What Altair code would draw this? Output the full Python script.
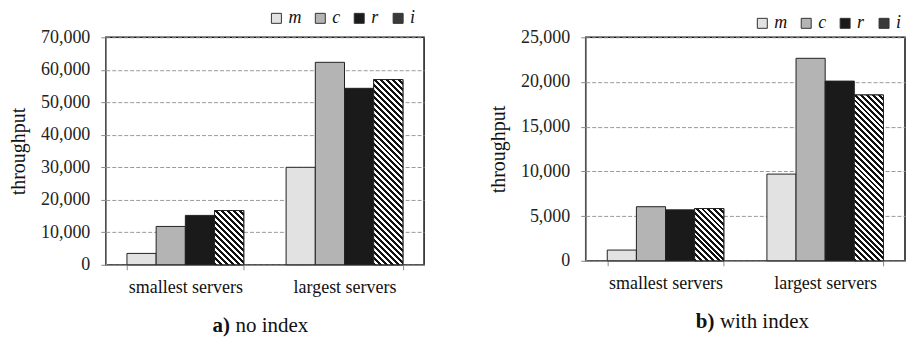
import altair as alt
import pandas as pd

# ---- data ----
groups = ["smallest servers", "largest servers"]
series = ["m", "c", "r", "i"]
a_small = [3500, 11800, 15200, 16700]
a_large = [30000, 62300, 54300, 57000]
b_small = [1200, 6050, 5700, 5850]
b_large = [9700, 22650, 20100, 18550]
a_ticks = [0, 10000, 20000, 30000, 40000, 50000, 60000, 70000]
b_ticks = [0, 5000, 10000, 15000, 20000, 25000]
a_caption = ["a)", "no index"]
b_caption = ["b)", "with index"]
y_title = "throughput"

# ---- styling ----
FONT = "Liberation Serif"
fills = ["#e2e2e2", "#b4b4b4", "#1a1a1a", "#3a3a3a"]
INK = "#111111"
GRAY = "#8a8a8a"


def make_df(small, large):
    rows = []
    for g, vals in zip(groups, [small, large]):
        for s, v in zip(series, vals):
            rows.append({"group": g, "series": s, "value": v})
    return pd.DataFrame(rows)


def hatch(w, h, period=6.0):
    # 45 degree "\" stripes inside a w x h box (objectBoundingBox gradient)
    k = h / w
    du = (1 + k) / (1 + k * k)
    dv = -k * du
    n = max(1, round((w + h) / period))
    stops = []
    for j in range(n):
        a = round(j / n, 5)
        b = round((j + 0.5) / n, 5)
        c = round((j + 1) / n, 5)
        stops += [
            {"offset": a, "color": "#111111"},
            {"offset": b, "color": "#111111"},
            {"offset": b, "color": "#ffffff"},
            {"offset": c, "color": "#ffffff"},
        ]
    return {"gradient": "linear", "x1": 0, "y1": 1, "x2": round(du, 5),
            "y2": round(1 + dv, 5), "stops": stops}


def panel(small, large, ticks, width, height, pin, lx, ly, colpad, caption, cap_x, cap_y):
    df = make_df(small, large)
    ymax = ticks[-1]
    base = alt.Chart(df)
    xenc = alt.X("group:N", sort=groups,
                 scale=alt.Scale(domain=groups, paddingInner=pin, paddingOuter=pin / 2),
                 axis=alt.Axis(title=None, labelFont=FONT, labelFontSize=18, labelColor=INK,
                               labelAngle=0, tickBand="extent", tickSize=5, tickColor=GRAY,
                               domainColor=GRAY, domainWidth=1.5, labelPadding=9, grid=False))
    xoff = alt.XOffset("series:N", sort=series,
                       scale=alt.Scale(domain=series, paddingInner=0, paddingOuter=0))
    yenc = alt.Y("value:Q", scale=alt.Scale(domain=[0, ymax], nice=False),
                 axis=alt.Axis(values=ticks, format=",d", title=y_title, titleFont=FONT,
                               titleFontSize=20, titleFontWeight="normal", titleColor=INK,
                               titlePadding=11.5, labelFont=FONT, labelFontSize=18,
                               labelColor="#222222", labelPadding=11, tickSize=5,
                               tickColor=GRAY, domainColor=GRAY, domainWidth=1.5,
                               grid=True, gridColor="#9a9a9a", gridDash=[4, 2], gridWidth=1))
    bars = base.mark_bar(stroke="#222222", strokeWidth=1).encode(
        x=xenc, xOffset=xoff, y=yenc,
        color=alt.Color("series:N", sort=series,
                        scale=alt.Scale(domain=series, range=fills),
                        legend=alt.Legend(orient="none", legendX=lx, legendY=ly,
                                          direction="horizontal", title=None,
                                          symbolType="square", symbolSize=100,
                                          symbolStrokeColor="#333333", symbolStrokeWidth=1,
                                          symbolOpacity=1,
                                          labelFont=FONT, labelFontStyle="italic",
                                          labelFontSize=18, labelColor=INK, labelOffset=3,
                                          columnPadding=colpad, padding=0)))
    layers = [bars]
    step = width / 2
    bw = step * (1 - pin) / 4
    for g, vals in zip(groups, [small, large]):
        v = vals[series.index("i")]
        h = v / ymax * height
        layers.append(
            base.mark_bar(fill=hatch(bw, h), stroke="#222222", strokeWidth=1)
            .encode(x=xenc, xOffset=xoff, y=yenc)
            .transform_filter(f"datum.series === 'i' && datum.group === '{g}'")
        )
    cap_a = alt.Chart(pd.DataFrame({"t": [caption[0]]})).mark_text(
        font=FONT, fontSize=21, fontWeight="bold", align="right", baseline="alphabetic",
        color=INK).encode(x=alt.value(cap_x), y=alt.value(cap_y), text="t:N")
    cap_b = alt.Chart(pd.DataFrame({"t": [caption[1]]})).mark_text(
        font=FONT, fontSize=21, align="left", baseline="alphabetic",
        color=INK).encode(x=alt.value(cap_x + 5.5), y=alt.value(cap_y), text="t:N")
    layers += [cap_a, cap_b]
    return alt.layer(*layers).properties(width=width, height=height)


left = panel(a_small, a_large, a_ticks, 319, 228, 0.266, 162, -28, 10, a_caption, 124.5, 295)
right = panel(b_small, b_large, b_ticks, 320, 224, 0.27, 168, -23, 10, b_caption, 129, 291)

chart = (
    alt.hconcat(left, right, spacing=63)
    .resolve_scale(color="independent", x="independent", y="independent", xOffset="independent")
    .resolve_legend(color="independent")
    .properties(padding=0)
    .configure_view(stroke=INK, strokeWidth=1.5)
)

chart.save("out.html", embed_options={"renderer": "svg", "actions": False})
